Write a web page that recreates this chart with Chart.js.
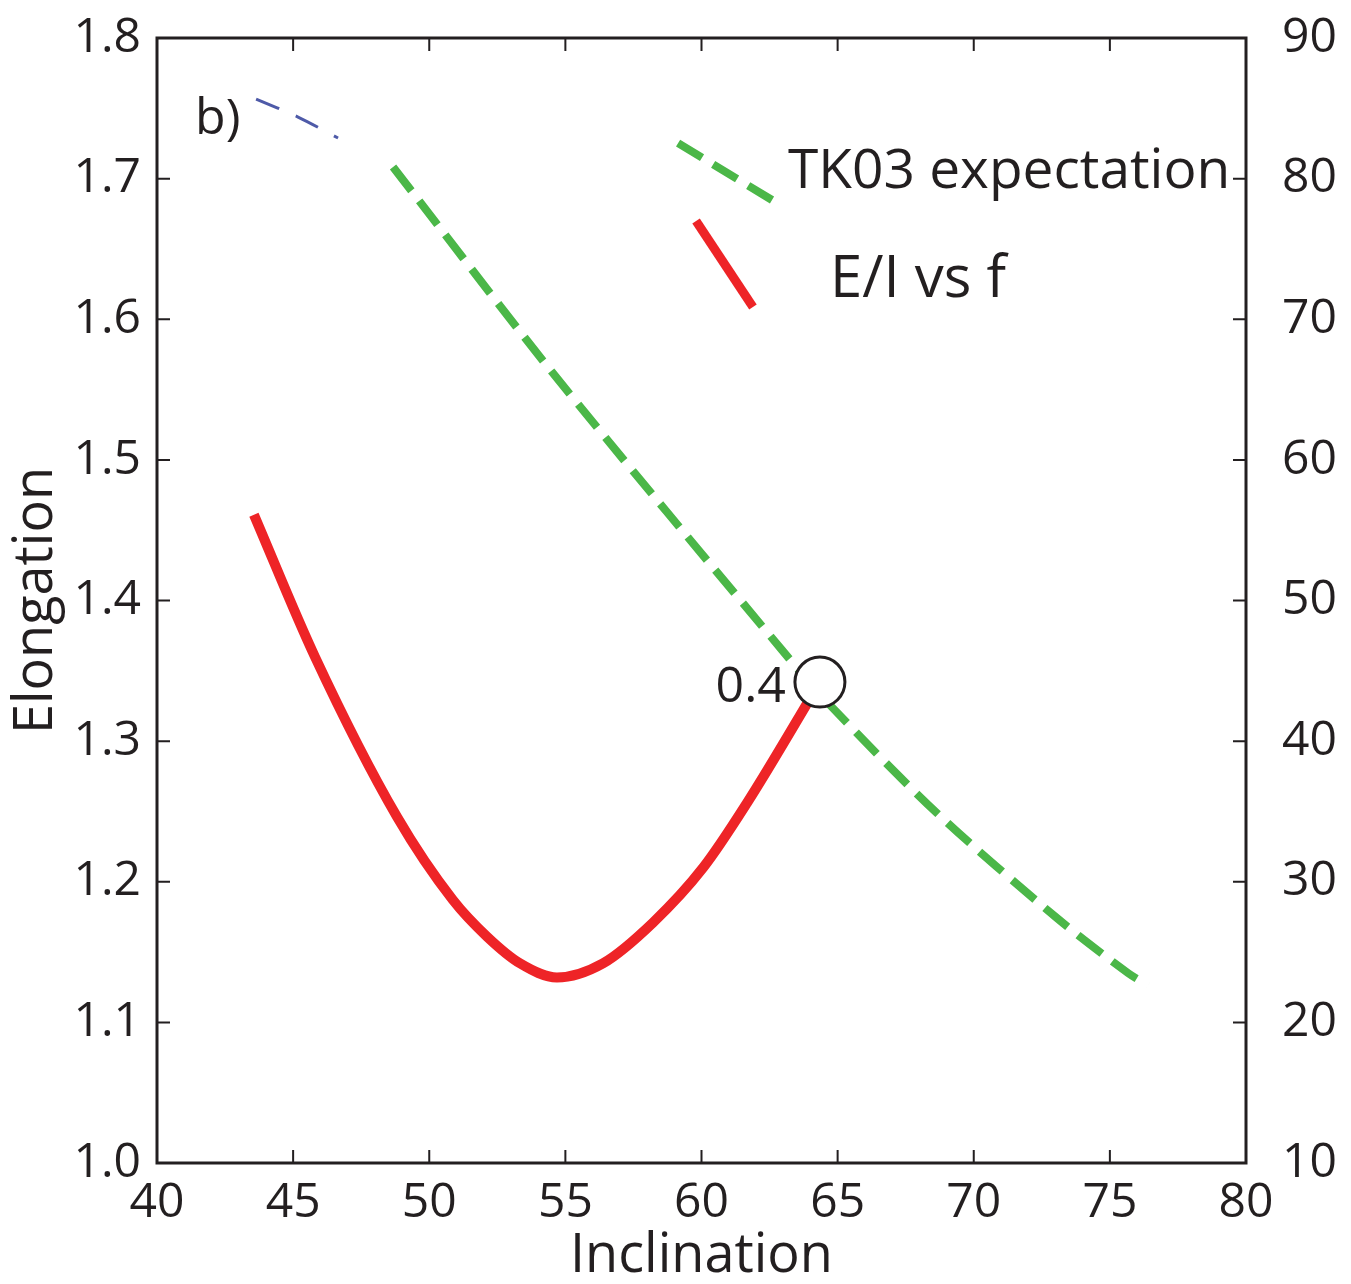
<!DOCTYPE html>
<html>
<head>
<meta charset="utf-8">
<title>Elongation vs Inclination</title>
<script src="https://cdn.jsdelivr.net/npm/chart.js@4.4.1/dist/chart.umd.min.js"></script>
<style>
  html, body { margin: 0; padding: 0; background: #fff; }
  #wrap { width: 1351px; height: 1284px; }
</style>
</head>
<body>
<div id="wrap"><canvas id="chart" width="1351" height="1284"></canvas></div>
<script>
// E/I path as f decreases (inclination, elongation)
const eiIncl = [43.56, 45.8, 48.82, 50.87, 52.12, 53.33, 54.69, 56.38, 58.22, 60.06, 61.67, 64.35];
const eiElong = [1.461, 1.360, 1.246, 1.187, 1.161, 1.142, 1.132, 1.142, 1.171, 1.210, 1.256, 1.342];

// TK03 model expectation
const tkIncl = [48.67, 54.51, 62.96, 64.72, 68.65, 73.06, 75.67, 76.40];
const tkElong = [1.7083, 1.5625, 1.3647, 1.3256, 1.2488, 1.1741, 1.1350, 1.1265];

// second (blue) curve, only its tail is inside the frame
const blueIncl = [43.64, 45.18, 46.65];
const blueElong = [1.7566, 1.7438, 1.7289];

// crossing point and its f value
const crossIncl = [64.35];
const crossElong = [1.342];
const crossLabel = '0.4';

// hand-placed legend swatches
const keyTkIncl = [59.14, 62.59];
const keyTkElong = [1.7253, 1.6848];
const keyEiIncl = [59.80, 61.89];
const keyEiElong = [1.6698, 1.6087];

const xTicks = [40, 45, 50, 55, 60, 65, 70, 75, 80];
const yTicks = [1.0, 1.1, 1.2, 1.3, 1.4, 1.5, 1.6, 1.7, 1.8];
const y2Ticks = [10, 20, 30, 40, 50, 60, 70, 80, 90];

const FONT = '"Comic Sans MS", "Open Sans", sans-serif';
const INK = '#231f20';
const GREEN = '#4bb748';
const RED = '#ee2427';
const BLUE = '#4e5aa8';

const pts = (xs, ys) => xs.map((x, i) => ({ x: x, y: ys[i] }));

// inward ticks on all four sides plus the frame
const frameTicks = {
  id: 'frameTicks',
  afterDraw(chart) {
    const { ctx, chartArea: a, scales } = chart;
    const len = 13;
    ctx.save();
    ctx.strokeStyle = INK;
    ctx.lineWidth = 2;
    ctx.beginPath();
    scales.x.ticks.forEach(t => {
      const px = scales.x.getPixelForValue(t.value);
      ctx.moveTo(px, a.bottom); ctx.lineTo(px, a.bottom - len);
      ctx.moveTo(px, a.top); ctx.lineTo(px, a.top + len);
    });
    scales.y.ticks.forEach(t => {
      const py = scales.y.getPixelForValue(t.value);
      ctx.moveTo(a.left, py); ctx.lineTo(a.left + len, py);
    });
    scales.y2.ticks.forEach(t => {
      const py = scales.y2.getPixelForValue(t.value);
      ctx.moveTo(a.right, py); ctx.lineTo(a.right - len, py);
    });
    ctx.stroke();
    ctx.lineWidth = 3;
    ctx.strokeRect(a.left, a.top, a.right - a.left, a.bottom - a.top);
    ctx.restore();
  }
};

// panel letter, legend text and crossing label
const notes = {
  id: 'notes',
  afterDraw(chart) {
    const { ctx, scales: { x, y } } = chart;
    ctx.save();
    ctx.fillStyle = INK;
    ctx.textBaseline = 'middle';
    ctx.textAlign = 'left';
    ctx.font = '50px ' + FONT;
    ctx.fillText('b)', x.getPixelForValue(41.40), y.getPixelForValue(1.7417));
    ctx.font = '55px ' + FONT;
    ctx.fillText('TK03 expectation', x.getPixelForValue(63.18), y.getPixelForValue(1.7047));
    ctx.font = '58px ' + FONT;
    ctx.fillText('E/I vs f', x.getPixelForValue(64.72), y.getPixelForValue(1.6279));
    ctx.font = '50px ' + FONT;
    ctx.textAlign = 'right';
    ctx.fillText(crossLabel, x.getPixelForValue(crossIncl[0]) - 34, y.getPixelForValue(crossElong[0]) + 6);
    ctx.restore();
  }
};

const tickFont = { family: FONT, size: 48 };

// keep label overhang from pushing the plot frame down
const noOverhang = s => { s.paddingTop = 0; s.paddingBottom = 0; };

new Chart(document.getElementById('chart'), {
  type: 'line',
  data: {
    datasets: [
      {
        data: pts(crossIncl, crossElong),
        showLine: false,
        pointRadius: 25,
        pointBackgroundColor: '#fff',
        pointBorderColor: INK,
        pointBorderWidth: 3,
        order: 0
      },
      {
        data: pts(eiIncl, eiElong),
        borderColor: RED,
        borderWidth: 10,
        cubicInterpolationMode: 'monotone',
        pointRadius: 0,
        order: 1
      },
      {
        data: pts(tkIncl, tkElong),
        borderColor: GREEN,
        borderWidth: 8,
        borderDash: [30, 13],
        tension: 0.3,
        pointRadius: 0,
        order: 2
      },
      {
        data: pts(blueIncl, blueElong),
        borderColor: BLUE,
        borderWidth: 3,
        borderDash: [25, 18],
        tension: 0.3,
        pointRadius: 0,
        order: 3
      },
      {
        data: pts(keyTkIncl, keyTkElong),
        borderColor: GREEN,
        borderWidth: 8,
        borderDash: [28, 13],
        pointRadius: 0,
        order: 4
      },
      {
        data: pts(keyEiIncl, keyEiElong),
        borderColor: RED,
        borderWidth: 9,
        pointRadius: 0,
        order: 5
      }
    ]
  },
  options: {
    responsive: false,
    animation: false,
    layout: { padding: { top: 38, right: 0, bottom: 0, left: 0 } },
    plugins: {
      legend: { display: false },
      tooltip: { enabled: false }
    },
    scales: {
      x: {
        type: 'linear',
        min: 40,
        max: 80,
        afterBuildTicks: s => { s.ticks = xTicks.map(v => ({ value: v })); },
        afterFit: s => { s.height = 121; s.paddingLeft = 0; s.paddingRight = 0; },
        grid: { display: false, drawTicks: false },
        border: { display: false },
        ticks: { font: tickFont, color: INK, padding: 12, maxRotation: 0 },
        title: {
          display: true,
          text: 'Inclination',
          font: { family: FONT, size: 54, lineHeight: 1 },
          color: INK,
          padding: { top: 0, bottom: 0 }
        }
      },
      y: {
        type: 'linear',
        position: 'left',
        min: 1.0,
        max: 1.8,
        afterBuildTicks: s => { s.ticks = yTicks.map(v => ({ value: v })); },
        afterFit: s => { s.width = 157; noOverhang(s); },
        grid: { display: false, drawTicks: false },
        border: { display: false },
        ticks: { font: tickFont, color: INK, padding: 16, callback: v => v.toFixed(1) },
        title: {
          display: true,
          text: 'Elongation',
          font: { family: FONT, size: 54, lineHeight: 1 },
          color: INK,
          padding: { top: 10, bottom: 0 }
        }
      },
      y2: {
        type: 'linear',
        position: 'right',
        min: 10,
        max: 90,
        afterBuildTicks: s => { s.ticks = y2Ticks.map(v => ({ value: v })); },
        afterFit: s => { s.width = 105; noOverhang(s); },
        grid: { display: false, drawTicks: false },
        border: { display: false },
        ticks: { font: tickFont, color: INK, padding: 36 }
      }
    }
  },
  plugins: [frameTicks, notes]
});
</script>
</body>
</html>
